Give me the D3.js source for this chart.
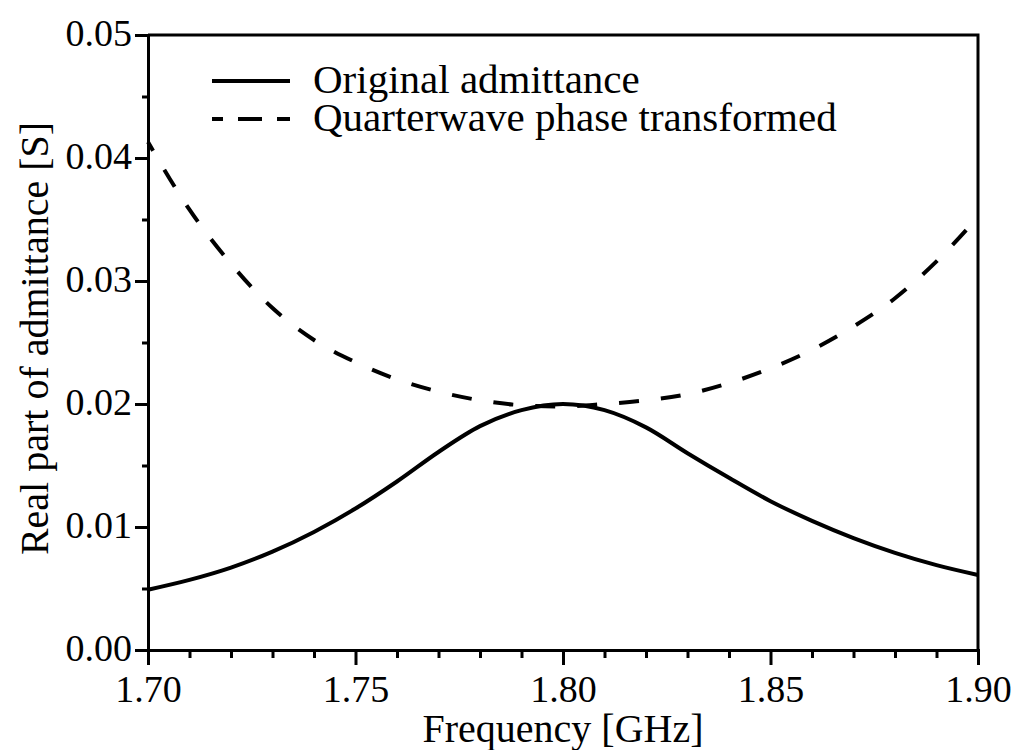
<!DOCTYPE html>
<html>
<head>
<meta charset="utf-8">
<script src="https://cdn.jsdelivr.net/npm/d3@7"></script>
<style>
  html, body { margin: 0; padding: 0; background: #fff; }
  svg text { font-family: "Liberation Serif", "DejaVu Serif", serif; fill: #000; }
</style>
</head>
<body>
<div id="chart"></div>
<script>
// frequency points [GHz]
const freq = [1.70, 1.71, 1.72, 1.73, 1.74, 1.75, 1.76, 1.77, 1.78, 1.79, 1.80,
              1.81, 1.82, 1.83, 1.84, 1.85, 1.86, 1.87, 1.88, 1.89, 1.90];

// real part of the admittance [S]
const original = [0.0049, 0.0057, 0.0067, 0.0080, 0.0096, 0.0115, 0.0137, 0.0161, 0.0182, 0.0195, 0.0200,
                  0.0195, 0.0181, 0.0160, 0.0140, 0.0121, 0.0105, 0.0091, 0.0079, 0.0069, 0.0061];
const transformed = [0.0413, 0.0358, 0.0314, 0.0278, 0.0252, 0.0234, 0.0220, 0.0210, 0.0203, 0.0199, 0.0198,
                     0.0200, 0.0203, 0.0208, 0.0217, 0.0229, 0.0244, 0.0263, 0.0286, 0.0316, 0.0352];

const seriesNames = ["Original admittance", "Quarterwave phase transformed"];

const xMajor = [1.70, 1.75, 1.80, 1.85, 1.90];
const xMinor = [1.71, 1.72, 1.73, 1.74, 1.76, 1.77, 1.78, 1.79, 1.81, 1.82, 1.83, 1.84, 1.86, 1.87, 1.88, 1.89];
const yMajor = [0.00, 0.01, 0.02, 0.03, 0.04, 0.05];
const yMinor = [0.005, 0.015, 0.025, 0.035, 0.045];

const serif = "'Liberation Serif', 'DejaVu Serif', serif";

const margin = { top: 35, right: 41, bottom: 100, left: 148 },
      width = 1019 - margin.left - margin.right,
      height = 750 - margin.top - margin.bottom;

const svg = d3.select("#chart")
  .append("svg")
    .attr("width", width + margin.left + margin.right)
    .attr("height", height + margin.top + margin.bottom)
  .append("g")
    .attr("transform", `translate(${margin.left},${margin.top})`);

const x = d3.scaleLinear().domain([1.70, 1.90]).range([0, width]);
const y = d3.scaleLinear().domain([0, 0.05]).range([height, 0]);

// frame: top and right
svg.append("path")
  .attr("d", `M0,0H${width}V${height}`)
  .attr("fill", "none")
  .attr("stroke", "#000")
  .attr("stroke-width", 3);

// x axis
const xAxis = svg.append("g")
  .attr("transform", `translate(0,${height})`)
  .call(d3.axisBottom(x).tickValues(xMajor).tickSize(15).tickPadding(10).tickFormat(d3.format(".2f")));

svg.append("g")
  .attr("transform", `translate(0,${height})`)
  .call(d3.axisBottom(x).tickValues(xMinor).tickSize(8).tickFormat(""))
  .call(g => g.select(".domain").remove());

// y axis
const yAxis = svg.append("g")
  .call(d3.axisLeft(y).tickValues(yMajor).tickSize(13).tickPadding(3).tickFormat(d3.format(".2f")));

svg.append("g")
  .call(d3.axisLeft(y).tickValues(yMinor).tickSize(6).tickFormat(""))
  .call(g => g.select(".domain").remove());

svg.selectAll(".tick line").attr("stroke", "#000").attr("stroke-width", 3);
svg.selectAll(".domain").attr("stroke", "#000").attr("stroke-width", 3);
svg.selectAll(".tick text")
  .attr("font-family", serif)
  .attr("font-size", 38)
  .attr("fill", "#000");
yAxis.selectAll(".tick text").attr("dy", "0.28em");

// axis titles
svg.append("text")
  .attr("x", width / 2)
  .attr("y", height + 92)
  .attr("text-anchor", "middle")
  .attr("font-family", serif)
  .attr("font-size", 40)
  .text("Frequency [GHz]");

svg.append("text")
  .attr("transform", `translate(${-100},${height / 2 - 4}) rotate(-90)`)
  .attr("text-anchor", "middle")
  .attr("font-family", serif)
  .attr("font-size", 40)
  .text("Real part of admittance [S]");

// curves
const line = d3.line()
  .x((d, i) => x(freq[i]))
  .y(d => y(d))
  .curve(d3.curveMonotoneX);

svg.append("path")
  .datum(original)
  .attr("fill", "none")
  .attr("stroke", "#000")
  .attr("stroke-width", 4)
  .attr("d", line);

svg.append("path")
  .datum(transformed)
  .attr("fill", "none")
  .attr("stroke", "#000")
  .attr("stroke-width", 4)
  .attr("stroke-dasharray", "20,22")
  .attr("stroke-dashoffset", 10)
  .attr("d", line);

// legend
const legend = svg.selectAll(".legend")
  .data(seriesNames)
  .join("g")
    .attr("class", "legend")
    .attr("transform", (d, i) => `translate(64, ${46 + i * 38})`);

legend.append("line")
  .attr("x1", 0)
  .attr("x2", 78)
  .attr("stroke", "#000")
  .attr("stroke-width", 4)
  .attr("stroke-dasharray", (d, i) => i === 0 ? null : "24,15")
  .attr("stroke-dashoffset", 13);

legend.append("text")
  .attr("x", 101)
  .attr("y", 12)
  .attr("font-family", serif)
  .attr("font-size", 41)
  .text(d => d);
</script>
</body>
</html>
